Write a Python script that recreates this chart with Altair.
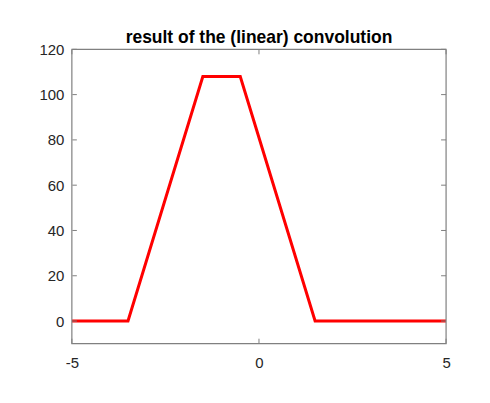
import altair as alt
import pandas as pd

# data
x_vals = [-5, -3.5, -1.5, -0.5, 1.5, 5]
y_vals = [0, 0, 108, 108, 0, 0]
x_ticks = [-5, 0, 5]
y_ticks = [0, 20, 40, 60, 80, 100, 120]

W, H = 375, 295
line_df = pd.DataFrame({"x": x_vals, "y": y_vals})
xt_df = pd.DataFrame({"x": x_ticks})
yt_df = pd.DataFrame({"y": y_ticks})

xs = alt.Scale(domain=[-5, 5], nice=False, zero=False)
ys = alt.Scale(domain=[-10, 120], nice=False, zero=False)

x_axis = alt.Axis(values=x_ticks, grid=False, ticks=False, domain=False,
                  labelFontSize=15, labelColor="#262626", labelPadding=12,
                  labelFont="Liberation Sans", labelFlush=False,
                  labelExpr="'' + datum.value", title=None)
y_axis = alt.Axis(values=y_ticks, grid=False, ticks=False, domain=False,
                  labelFontSize=15, labelColor="#262626", labelPadding=8,
                  labelFont="Liberation Sans", labelExpr="'' + datum.value",
                  title=None)

tick_color = "#808080"

box = alt.Chart(pd.DataFrame({"b": [0]})).mark_rect(
    fillOpacity=0, stroke=tick_color, strokeWidth=1.2).encode(
    x=alt.value(0), x2=alt.value(W), y=alt.value(0), y2=alt.value(H))

line = alt.Chart(line_df).mark_line(color="#ff0000", strokeWidth=3, clip=True).encode(
    x=alt.X("x:Q", scale=xs, axis=x_axis),
    y=alt.Y("y:Q", scale=ys, axis=y_axis),
)

left_t = alt.Chart(yt_df).mark_rule(color=tick_color, strokeWidth=1).encode(
    x=alt.value(0.5), x2=alt.value(5), y=alt.Y("y:Q", scale=ys, axis=y_axis))
right_t = alt.Chart(yt_df).mark_rule(color=tick_color, strokeWidth=1).encode(
    x=alt.value(W - 5), x2=alt.value(W), y=alt.Y("y:Q", scale=ys, axis=y_axis))
bottom_t = alt.Chart(xt_df).mark_rule(color=tick_color, strokeWidth=1).encode(
    y=alt.value(H - 5), y2=alt.value(H), x=alt.X("x:Q", scale=xs, axis=x_axis))
top_t = alt.Chart(xt_df).mark_rule(color=tick_color, strokeWidth=1).encode(
    y=alt.value(0.5), y2=alt.value(5), x=alt.X("x:Q", scale=xs, axis=x_axis))

chart = alt.layer(line, left_t, right_t, bottom_t, top_t, box).properties(
    width=W, height=H,
    title=alt.TitleParams("result of the (linear) convolution", fontSize=17.5,
                          fontWeight="bold", font="Liberation Sans", color="#000000",
                          offset=6, dy=10, anchor="middle"),
    autosize=alt.AutoSizeParams(type="none"),
    padding={"left": 64, "top": 41, "right": 36, "bottom": 50},
).configure(
    background="white",
    view=alt.ViewConfig(stroke=None),
)

chart.save("out.html", embed_options={"renderer": "svg", "actions": False})
